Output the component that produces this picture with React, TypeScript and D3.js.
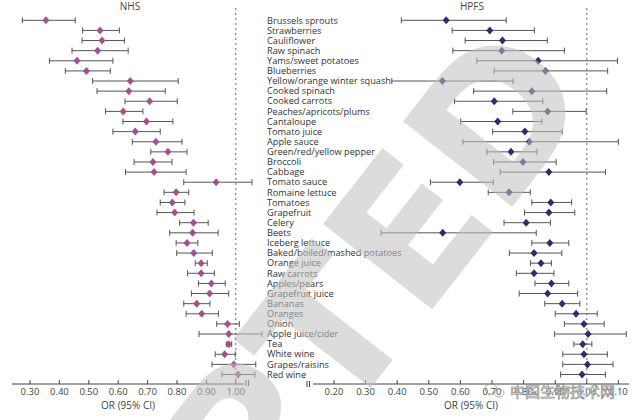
import React from "react";
import * as d3 from "d3";

const foods = [
  "Brussels sprouts", "Strawberries", "Cauliflower", "Raw spinach", "Yams/sweet potatoes",
  "Blueberries", "Yellow/orange winter squash", "Cooked spinach", "Cooked carrots",
  "Peaches/apricots/plums", "Cantaloupe", "Tomato juice", "Apple sauce",
  "Green/red/yellow pepper", "Broccoli", "Cabbage", "Tomato sauce", "Romaine lettuce",
  "Tomatoes", "Grapefruit", "Celery", "Beets", "Iceberg lettuce",
  "Baked/boiled/mashed potatoes", "Orange juice", "Raw carrots", "Apples/pears",
  "Grapefruit juice", "Bananas", "Oranges", "Onion", "Apple juice/cider", "Tea",
  "White wine", "Grapes/raisins", "Red wine",
];

const nhsOR = [0.354, 0.538, 0.545, 0.530, 0.460, 0.492, 0.641, 0.636, 0.707, 0.617, 0.696, 0.658,
  0.728, 0.769, 0.718, 0.722, 0.933, 0.797, 0.784, 0.792, 0.856, 0.853, 0.834, 0.857, 0.882,
  0.882, 0.917, 0.911, 0.867, 0.884, 0.972, 0.976, 0.976, 0.962, 0.993, 1.008];
const nhsLo = [0.274, 0.479, 0.477, 0.443, 0.366, 0.420, 0.513, 0.528, 0.623, 0.557, 0.616, 0.582,
  0.648, 0.711, 0.654, 0.625, 0.823, 0.756, 0.743, 0.732, 0.809, 0.775, 0.797, 0.799, 0.862,
  0.836, 0.873, 0.849, 0.823, 0.831, 0.935, 0.875, 0.969, 0.930, 0.919, 0.953];
const nhsHi = [0.454, 0.604, 0.621, 0.634, 0.582, 0.573, 0.804, 0.760, 0.801, 0.684, 0.786, 0.743,
  0.817, 0.834, 0.783, 0.831, 1.055, 0.840, 0.827, 0.858, 0.906, 0.940, 0.871, 0.920, 0.903,
  0.927, 0.964, 0.976, 0.912, 0.941, 1.012, 1.089, 0.986, 0.998, 1.068, 1.065];

const hpfsOR = [0.555, 0.693, 0.733, 0.731, 0.846, 0.869, 0.543, 0.826, 0.707, 0.876, 0.718, 0.804,
  0.818, 0.760, 0.798, 0.880, 0.598, 0.754, 0.886, 0.880, 0.808, 0.544, 0.883, 0.833, 0.855,
  0.833, 0.888, 0.876, 0.922, 0.966, 0.991, 1.004, 0.987, 0.991, 1.002, 0.985];
const hpfsLo = [0.413, 0.574, 0.615, 0.576, 0.652, 0.707, 0.383, 0.642, 0.581, 0.766, 0.601, 0.702,
  0.608, 0.684, 0.705, 0.726, 0.505, 0.688, 0.826, 0.803, 0.738, 0.349, 0.826, 0.755, 0.822,
  0.777, 0.836, 0.786, 0.867, 0.900, 0.929, 0.898, 0.959, 0.924, 0.924, 0.917];
const hpfsHi = [0.745, 0.834, 0.875, 0.929, 1.097, 1.066, 0.767, 1.063, 0.861, 0.998, 0.858, 0.922,
  1.100, 0.842, 0.903, 1.059, 0.704, 0.821, 0.952, 0.962, 0.885, 0.840, 0.943, 0.921, 0.888,
  0.896, 0.943, 0.971, 0.978, 1.033, 1.055, 1.125, 1.016, 1.065, 1.083, 1.059];

const nhsTicks = [0.3, 0.4, 0.5, 0.6, 0.7, 0.8, 0.9, 1.0];
const hpfsTicks = [0.2, 0.3, 0.4, 0.5, 0.6, 0.7, 0.8, 0.9, 1.0, 1.1];

const FONT = "'Open Sans', 'Noto Sans', sans-serif";

function Panel({ title, titleX, x, or, lo, hi, ticks, color, axisStart, axisEnd, breakLeft }: any) {
  const y = d3.scalePoint<string>().domain(foods).range([20.3, 374.5]);
  const axisY = 384;
  const xMid = (axisStart + axisEnd) / 2;
  return (
    <g>
      <text x={titleX} y={10} textAnchor="middle" fontSize={10} fill="#444" fontFamily={FONT}>{title}</text>
      <line x1={x(1)} x2={x(1)} y1={8} y2={axisY} stroke="#666" strokeWidth={1} strokeDasharray="2,3" />
      {foods.map((f, i) => {
        const yy = y(f)!;
        const cx = x(or[i]);
        return (
          <g key={f}>
            <line x1={x(lo[i])} x2={x(hi[i])} y1={yy} y2={yy} stroke="#555" strokeWidth={1} />
            <line x1={x(lo[i])} x2={x(lo[i])} y1={yy - 3} y2={yy + 3} stroke="#555" strokeWidth={1} />
            <line x1={x(hi[i])} x2={x(hi[i])} y1={yy - 3} y2={yy + 3} stroke="#555" strokeWidth={1} />
            <path d={`M${cx},${yy - 4}L${cx + 3.5},${yy}L${cx},${yy + 4}L${cx - 3.5},${yy}Z`} fill={color} />
          </g>
        );
      })}
      <line x1={axisStart} x2={axisEnd} y1={axisY} y2={axisY} stroke="#444" strokeWidth={1} />
      {breakLeft ? (
        <g stroke="#444" strokeWidth={1}>
          <line x1={axisStart - 6} x2={axisStart - 6} y1={axisY - 3} y2={axisY + 3} />
          <line x1={axisStart - 3.5} x2={axisStart - 3.5} y1={axisY - 3} y2={axisY + 3} />
        </g>
      ) : (
        <g stroke="#444" strokeWidth={1}>
          <line x1={axisEnd + 2} x2={axisEnd + 2} y1={axisY - 4} y2={axisY + 2} />
          <line x1={axisEnd + 4.5} x2={axisEnd + 4.5} y1={axisY - 4} y2={axisY + 2} />
        </g>
      )}
      {ticks.map((t: number) => (
        <g key={t}>
          <line x1={x(t)} x2={x(t)} y1={axisY} y2={axisY - 4} stroke="#444" strokeWidth={1} />
          <text x={x(t)} y={395} textAnchor="middle" fontSize={9.5} fill="#444" fontFamily={FONT}>{t.toFixed(2)}</text>
        </g>
      ))}
      <text x={xMid} y={409} textAnchor="middle" fontSize={10} fill="#444" fontFamily={FONT}>OR (95% CI)</text>
    </g>
  );
}

export default function App() {
  const xL = d3.scaleLinear().domain([0.3, 1.0]).range([30, 235.8]);
  const xR = d3.scaleLinear().domain([0.2, 1.0]).range([334, 586.8]);
  const y = d3.scalePoint<string>().domain(foods).range([20.3, 374.5]);
  return (
    <svg width={640} height={420} style={{ position: "absolute", left: 0, top: 0, background: "#fff" }}>
      <rect width={640} height={420} fill="#fff" />
      <Panel title="NHS" titleX={130} x={xL} or={nhsOR} lo={nhsLo} hi={nhsHi} ticks={nhsTicks}
        color="#a64f8c" axisStart={12} axisEnd={244} breakLeft={false} />
      <Panel title="HPFS" titleX={472} x={xR} or={hpfsOR} lo={hpfsLo} hi={hpfsHi} ticks={hpfsTicks}
        color="#2e2c6c" axisStart={313} axisEnd={629} breakLeft={true} />
      {foods.map((f) => (
        <text key={f} x={267} y={y(f)!} dy="0.35em" fontSize={9.2} fill="#333" fontFamily={FONT}>{f}</text>
      ))}
      <g transform="translate(500,112) rotate(-52)">
        <text x={73} y={68} textAnchor="end" fontSize={190} fontWeight={700} fill="#c1c1c1" opacity={0.55}
          fontFamily="'DejaVu Sans', sans-serif">ACCEPTED</text>
      </g>
      <text x={510} y={397} fontSize={15} fill="#fff" stroke="#8a8a8a" strokeWidth={0.7}
        fontFamily="'Noto Sans CJK SC', sans-serif">中国生物技术网</text>
      <g fill="none" stroke="#999" strokeWidth={0.8}>
        <ellipse cx={491} cy={389} rx={6} ry={5} />
        <ellipse cx={499} cy={393} rx={5} ry={4} />
      </g>
    </svg>
  );
}
